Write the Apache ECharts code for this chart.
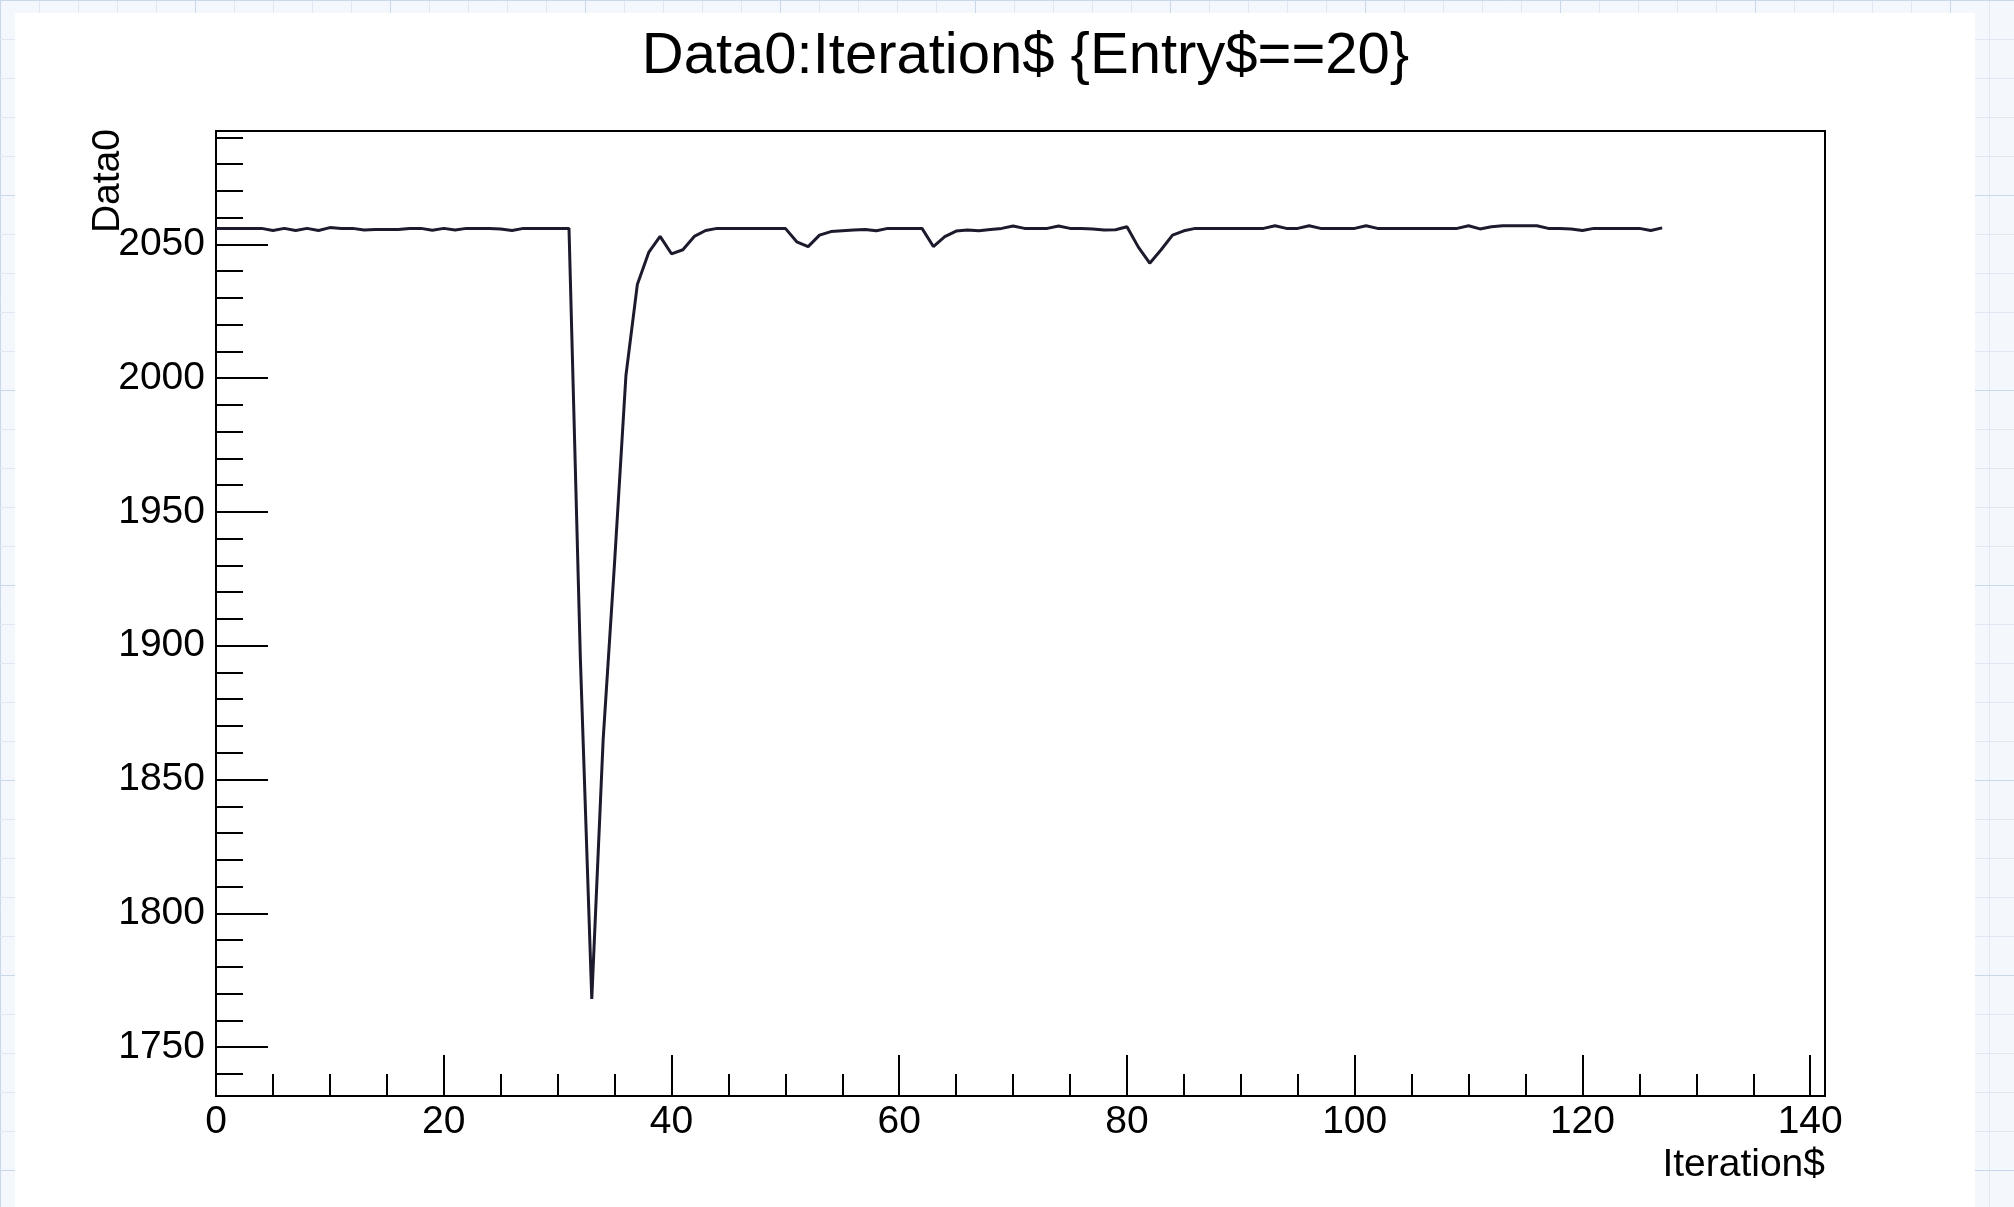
<!DOCTYPE html>
<html>
<head>
<meta charset="utf-8">
<script src="https://cdn.jsdelivr.net/npm/echarts@6/dist/echarts.min.js"></script>
<style>html,body{margin:0;padding:0;background:#fff}#c{width:2014px;height:1207px}</style>
</head>
<body>
<div id="c"></div>
<script>
// ---- data (Iteration$ = index of each value) ----
const data0 = [
  2056, 2056, 2056, 2056, 2056, 2055.2, 2056, 2055.2, 2056, 2055.2,
  2056.3, 2056, 2056, 2055.4, 2055.6, 2055.6, 2055.6, 2056, 2056, 2055.3,
  2056, 2055.4, 2056, 2056, 2056, 2055.8, 2055.2, 2056, 2056, 2056,
  2056, 2056, 1895, 1768, 1865, 1931, 2001, 2035, 2047, 2053,
  2046.5, 2048, 2053, 2055.2, 2056, 2056, 2056, 2056, 2056, 2056,
  2056, 2051, 2049.2, 2053.5, 2054.8, 2055.1, 2055.4, 2055.6, 2055.1, 2056,
  2056, 2056, 2056, 2049.2, 2052.9, 2055, 2055.4, 2055.1, 2055.6, 2056,
  2056.9, 2056, 2056, 2056, 2056.9, 2056, 2056, 2055.8, 2055.4, 2055.5,
  2056.6, 2049, 2043, 2048, 2053.5, 2055.1, 2056, 2056, 2056, 2056,
  2056, 2056, 2056, 2057, 2056, 2056, 2057, 2056, 2056, 2056,
  2056, 2057, 2056, 2056, 2056, 2056, 2056, 2056, 2056, 2056,
  2057, 2055.8, 2056.6, 2057, 2057, 2057, 2057, 2056, 2056, 2055.8,
  2055.2, 2056, 2056, 2056, 2056, 2056, 2055.2, 2056.2
];
const xTickLabels = [0, 20, 40, 60, 80, 100, 120, 140];
const yTickLabels = [1750, 1800, 1850, 1900, 1950, 2000, 2050];
const yMinorFirst = 1740, yMinorLast = 2090, yMinorStep = 10;
const xRange = [0, 141.3];
const yRange = [1731.7, 2092.4];
const titleText = 'Data0:Iteration$ {Entry$==20}';
const xTitle = 'Iteration$';
const yTitle = 'Data0';

// ---- layout ----
const W = 2014, H = 1207;
const FL = 216, FR = 1825, FT = 131, FB = 1096;
const xPix = v => FL + (v - xRange[0]) / (xRange[1] - xRange[0]) * (FR - FL);
const yPix = v => FB - (v - yRange[0]) / (yRange[1] - yRange[0]) * (FB - FT);
const FONT = 'Liberation Sans, Arial, Helvetica, sans-serif';
const INK = '#000';

const chart = echarts.init(document.getElementById('c'), null, {renderer: 'canvas'});

// background paper grid (decoration)
const bg = [];
for (let x = 0; x < W; x += 39) bg.push({type: 'line', z: -10, shape: {x1: x + 0.5, y1: 0, x2: x + 0.5, y2: H}, style: {stroke: (x % 195 === 0) ? '#c9d8ea' : '#e0e9f3', lineWidth: 1}});
for (let y = 0; y < H; y += 39) bg.push({type: 'line', z: -10, shape: {x1: 0, y1: y + 0.5, x2: W, y2: y + 0.5}, style: {stroke: (y % 195 === 0) ? '#c9d8ea' : '#e0e9f3', lineWidth: 1}});
bg.push({type: 'rect', z: -9, shape: {x: 15, y: 13, width: 1960, height: H - 13}, style: {fill: '#ffffff'}});

const hiddenAxis = (gi) => ({gridIndex: gi, type: 'value', show: false, min: 0, max: 1});

const option = {
  backgroundColor: '#f4f7fb',
  animation: false,
  graphic: bg,
  title: {
    text: titleText,
    left: (FL + FR) / 2,
    textAlign: 'center',
    top: 23,
    textStyle: {fontFamily: FONT, fontSize: 58, fontWeight: 'normal', color: INK}
  },
  grid: [
    {left: FL, right: W - FR, top: FT, bottom: H - FB, show: true, borderColor: INK, borderWidth: 2, backgroundColor: 'transparent', containLabel: false, outerBoundsMode: 'none'},
    {left: FL, right: W - xPix(xTickLabels[xTickLabels.length - 1]), top: FT, bottom: H - FB, containLabel: false, outerBoundsMode: 'none'},
    {left: FL, right: W - FR, top: yPix(yMinorLast), bottom: H - yPix(yMinorFirst), containLabel: false, outerBoundsMode: 'none'},
    {left: FL, right: W - FR, top: yPix(yTickLabels[yTickLabels.length - 1]), bottom: H - yPix(yTickLabels[0]), containLabel: false, outerBoundsMode: 'none'}
  ],
  xAxis: [
    {
      gridIndex: 0, type: 'value', min: xRange[0], max: xRange[1],
      axisLine: {show: false}, axisTick: {show: false}, axisLabel: {show: false}, splitLine: {show: false},
      name: xTitle, nameLocation: 'end', nameGap: 0, nameMoveOverlap: false,
      nameTextStyle: {fontFamily: FONT, fontSize: 39, color: INK, align: 'right', verticalAlign: 'top', padding: [50, 0, 0, 0]}
    },
    {
      gridIndex: 1, type: 'value', min: xTickLabels[0], max: xTickLabels[xTickLabels.length - 1],
      interval: xTickLabels[1] - xTickLabels[0],
      axisLine: {show: false},
      axisTick: {show: true, inside: true, length: 41, lineStyle: {color: INK, width: 2}},
      minorTick: {show: true, splitNumber: 4, length: 22, lineStyle: {color: INK, width: 2}},
      axisLabel: {show: true, margin: 7, fontFamily: FONT, fontSize: 39, color: INK, showMinLabel: true, showMaxLabel: true, formatter: v => String(v)},
      splitLine: {show: false}
    },
    hiddenAxis(2),
    hiddenAxis(3)
  ],
  yAxis: [
    {
      gridIndex: 0, type: 'value', min: yRange[0], max: yRange[1],
      axisLine: {show: false}, axisTick: {show: false}, axisLabel: {show: false}, splitLine: {show: false},
      name: yTitle, nameLocation: 'end', nameGap: 2, nameRotate: 90, nameMoveOverlap: false,
      nameTextStyle: {fontFamily: FONT, fontSize: 39, color: INK, align: 'right', verticalAlign: 'bottom', padding: [0, 0, 88, 0]}
    },
    hiddenAxis(1),
    {
      gridIndex: 2, type: 'value', min: yMinorFirst, max: yMinorLast, interval: yMinorStep,
      axisLine: {show: false},
      axisTick: {show: true, inside: true, length: 27, lineStyle: {color: INK, width: 2}},
      axisLabel: {show: false}, splitLine: {show: false}
    },
    {
      gridIndex: 3, type: 'value', min: yTickLabels[0], max: yTickLabels[yTickLabels.length - 1],
      interval: yTickLabels[1] - yTickLabels[0],
      axisLine: {show: false},
      axisTick: {show: true, inside: true, length: 52, lineStyle: {color: INK, width: 2}},
      axisLabel: {show: true, margin: 11, fontFamily: FONT, fontSize: 39, color: INK, formatter: v => String(v)},
      splitLine: {show: false}
    }
  ],
  series: [{
    type: 'line',
    xAxisIndex: 0, yAxisIndex: 0,
    data: data0.map((v, i) => [i, v]),
    showSymbol: false, symbol: 'none',
    lineStyle: {color: '#1c1a2c', width: 3},
    z: 5
  }]
};
chart.setOption(option);
</script>
</body>
</html>
